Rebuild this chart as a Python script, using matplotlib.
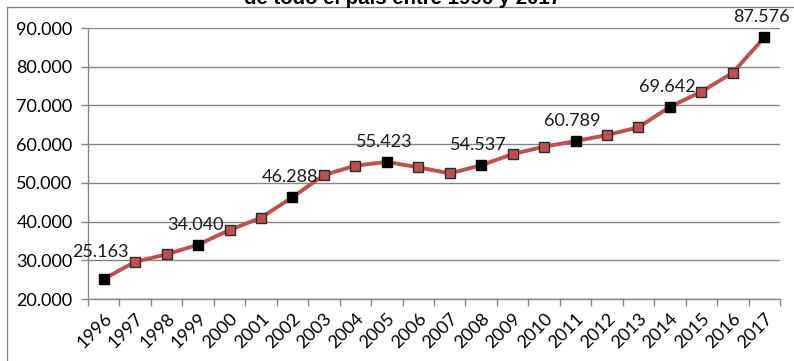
import numpy as np
import matplotlib.pyplot as plt
from matplotlib.lines import Line2D
from matplotlib.ticker import FuncFormatter, FixedLocator

plt.rcParams['font.family'] = ['Lato', 'DejaVu Sans']

# Datos de la serie
anios = [str(a) for a in range(1996, 2018)]
valores = [25163, 29630, 31540, 34040, 37820, 41000, 46288, 52030, 54440, 55423,
           54010, 52460, 54537, 57450, 59350, 60789, 62360, 64340, 69642, 73550,
           78460, 87576]
# Años destacados con etiqueta de valor
destacados = ['1996', '1999', '2002', '2005', '2008', '2011', '2014', '2017']

rojo = '#C0504D'
gris = '#868686'
fs = 13

def miles(v, pos=None):
    return f'{int(round(v)):,}'.replace(',', '.')

fig = plt.figure(figsize=(7.94, 3.61), dpi=100)
ax = fig.add_axes([0.1108, 0.1717, 0.8716, 0.7507])

x = np.arange(len(anios))
ax.plot(x, valores, color=rojo, lw=2.8, zorder=3)
for i, (a, v) in enumerate(zip(anios, valores)):
    if a in destacados:
        ax.plot(i, v, marker='s', ms=7.2, mfc='black', mec='black', zorder=4)
        dy = 27 if i == 0 else 20
        ax.annotate(miles(v), (i, v), xytext=(-3, dy), textcoords='offset pixels',
                    ha='center', va='center', fontsize=fs, color='#1a1a1a', zorder=5)
    else:
        ax.plot(i, v, marker='s', ms=7.2, mfc=rojo, mec='#2b2b2b', mew=1.0, zorder=4)

ax.set_xlim(-0.5, len(anios) - 0.5)
ax.set_ylim(20000, 90000)
ax.set_yticks(np.arange(20000, 90001, 10000))
ax.yaxis.set_major_formatter(FuncFormatter(miles))
ax.yaxis.grid(True, color=gris, lw=1)
ax.set_axisbelow(True)

ax.set_xticks(x)
ax.set_xticklabels(anios, rotation=45, ha='right', rotation_mode='anchor')
ax.xaxis.set_minor_locator(FixedLocator(np.arange(-0.5, len(anios), 1)))
ax.tick_params(axis='x', which='major', length=0, pad=8, labelsize=fs)
ax.tick_params(axis='x', which='minor', length=5, color=gris, width=1)
ax.tick_params(axis='y', length=5, color=gris, width=1, labelsize=fs, pad=6)

for s in ['top', 'right']:
    ax.spines[s].set_visible(False)
for s in ['left', 'bottom']:
    ax.spines[s].set_color(gris)
    ax.spines[s].set_linewidth(1)

# Marco del área del gráfico
fig.add_artist(Line2D([7 / 794, 1], [1 - 7 / 361, 1 - 7 / 361], color=gris, lw=1))
fig.add_artist(Line2D([7 / 794, 7 / 794], [0, 1 - 7 / 361], color=gris, lw=1))

fig.text(402 / 794, 1 - 3.5 / 361, 'de todo el país entre 1996 y 2017',
         ha='center', va='baseline', fontsize=14.7, fontweight='bold',
         family=['Liberation Sans', 'DejaVu Sans'])

fig.savefig('out.png', dpi=100)
